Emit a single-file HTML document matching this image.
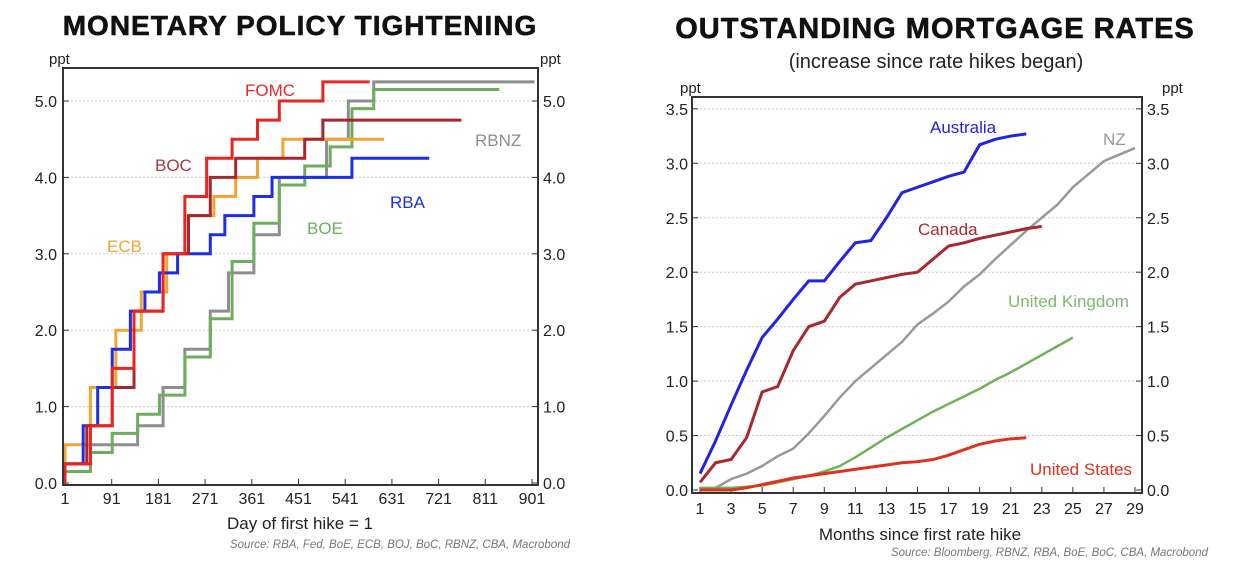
<!DOCTYPE html>
<html><head><meta charset="utf-8"><style>
html,body{margin:0;padding:0;background:#fff;}
svg{display:block;font-family:"Liberation Sans",Arial,sans-serif;}
</style></head><body>
<svg id="c" width="1250" height="572" viewBox="0 0 1250 572">
<text x="300" y="35" text-anchor="middle" font-size="28" font-weight="bold" letter-spacing="1" fill="#111" stroke="#111" stroke-width="0.6">MONETARY POLICY TIGHTENING</text>
<text x="935" y="38" text-anchor="middle" font-size="29" font-weight="bold" letter-spacing="1" fill="#111" stroke="#111" stroke-width="0.6">OUTSTANDING MORTGAGE RATES</text>
<text x="936" y="68" text-anchor="middle" font-size="20" fill="#222">(increase since rate hikes began)</text>
<text x="49" y="64" font-size="15" fill="#222">ppt</text>
<text x="540" y="64" font-size="15" fill="#222">ppt</text>
<text x="680" y="93" font-size="15" fill="#222">ppt</text>
<text x="1162" y="93" font-size="15" fill="#222">ppt</text>
<text x="300" y="529" text-anchor="middle" font-size="17" fill="#222">Day of first hike = 1</text>
<text x="570" y="548" text-anchor="end" font-size="11.5" font-style="italic" fill="#777">Source: RBA, Fed, BoE, ECB, BOJ, BoC, RBNZ, CBA, Macrobond</text>
<text x="920" y="540" text-anchor="middle" font-size="17" fill="#222">Months since first rate hike</text>
<text x="1208" y="556" text-anchor="end" font-size="11.5" font-style="italic" fill="#777">Source: Bloomberg, RBNZ, RBA, BoE, BoC, CBA, Macrobond</text>
<g id="L"></g><g id="R"></g>
</svg>
<script>
// Left chart data: [day, level] steps
const fomcDays=[1,50,92,134,190,232,274,323,372,414,498,588];
const fomcLvl=[0.25,0.75,1.5,2.25,3.0,3.75,4.25,4.5,4.75,5.0,5.25,5.25];
const bocDays=[1,43,92,134,190,239,281,330,463,498,765];
const bocLvl=[0.25,0.75,1.25,2.25,3.0,3.5,4.0,4.25,4.5,4.75,4.75];
const ecbDays=[1,50,99,148,197,239,288,330,372,421,616];
const ecbLvl=[0.5,1.25,2.0,2.5,3.0,3.5,3.75,4.0,4.25,4.5,4.5];
const rbaDays=[1,36,64,92,127,155,183,218,281,309,365,400,554,703];
const rbaLvl=[0.25,0.75,1.25,1.75,2.25,2.5,2.75,3.0,3.25,3.5,3.75,4.0,4.25,4.25];
const boeDays=[1,50,92,141,183,232,281,323,365,414,463,512,554,596,838];
const boeLvl=[0.15,0.4,0.65,0.9,1.15,1.65,2.15,2.9,3.4,3.9,4.15,4.4,4.9,5.15,5.15];
const rbnzDays=[1,50,141,190,232,281,316,365,414,505,547,596,906];
const rbnzLvl=[0.25,0.5,0.75,1.25,1.75,2.25,2.75,3.25,4.0,4.5,5.0,5.25,5.25];
const leftXTicks=[1,91,181,271,361,451,541,631,721,811,901];
const leftYTicks=[0,1,2,3,4,5];
// Right chart data: monthly values starting at month 1
const australia=[0.15,0.45,0.78,1.1,1.4,1.57,1.75,1.92,1.92,2.1,2.27,2.29,2.5,2.73,2.78,2.83,2.88,2.92,3.17,3.22,3.25,3.27];
const canada=[0.07,0.25,0.28,0.48,0.9,0.95,1.28,1.5,1.55,1.77,1.89,1.92,1.95,1.98,2.0,2.12,2.24,2.27,2.31,2.34,2.37,2.4,2.42];
const nz=[0.0,0.02,0.1,0.15,0.22,0.31,0.38,0.52,0.68,0.85,1.0,1.12,1.24,1.36,1.52,1.62,1.73,1.87,1.98,2.12,2.25,2.38,2.5,2.62,2.78,2.9,3.02,3.08,3.14];
const uk=[0.02,0.02,0.02,0.03,0.04,0.07,0.1,0.13,0.17,0.22,0.3,0.39,0.48,0.56,0.64,0.72,0.79,0.86,0.93,1.01,1.08,1.16,1.24,1.32,1.4];
const us=[0.0,0.0,0.0,0.02,0.05,0.08,0.11,0.13,0.15,0.17,0.19,0.21,0.23,0.25,0.26,0.28,0.32,0.37,0.42,0.45,0.47,0.48];
const rightXTicks=[1,3,5,7,9,11,13,15,17,19,21,23,25,27,29];
const rightYTicks=[0,0.5,1,1.5,2,2.5,3,3.5];

const NS='http://www.w3.org/2000/svg';
function mk(p,tag,a){const e=document.createElementNS(NS,tag);for(const k in a)e.setAttribute(k,a[k]);p.appendChild(e);return e;}
const LX=d=>65+(d-1)*(532-65)/900, LY=v=>483-v*76.4;
const L=document.getElementById('L');
leftYTicks.forEach(v=>{
 if(v>0){const g=mk(L,'line',{x1:63,x2:538,y1:LY(v),y2:LY(v),stroke:'#ccc','stroke-dasharray':'2,2'});
 
 }
 const t=mk(L,'text',{x:57,y:LY(v)+6,'text-anchor':'end','font-size':16,fill:'#222'});t.textContent=v.toFixed(1);
 
 
 const t2=mk(L,'text',{x:543,y:LY(v)+6,'font-size':16,fill:'#222'});t2.textContent=v.toFixed(1);
 
 
 mk(L,'line',{x1:63,x2:69,y1:LY(v),y2:LY(v),stroke:'#333'});mk(L,'line',{x1:532,x2:538,y1:LY(v),y2:LY(v),stroke:'#333'});
});
leftXTicks.forEach(d=>{
 mk(L,'line',{x1:LX(d),x2:LX(d),y1:485,y2:479,stroke:'#333'});
 const t=mk(L,'text',{x:LX(d),y:504,'text-anchor':'middle','font-size':16,fill:'#222'});t.textContent=d;
 
 
});
function step(days,lvl,color,name){
 let d='M'+LX(days[0])+','+LY(0)+' L'+LX(days[0])+','+LY(lvl[0]);
 for(let i=1;i<days.length;i++){d+=' L'+LX(days[i])+','+LY(lvl[i-1])+' L'+LX(days[i])+','+LY(lvl[i]);}
 const p=mk(L,'path',{d:d,fill:'none',stroke:color,'stroke-width':3});
 
 
}
step(rbnzDays,rbnzLvl,'#8e8e8e','rbnz-line');
step(boeDays,boeLvl,'#6cae5e','boe-line');
step(ecbDays,ecbLvl,'#f2a531','ecb-line');
step(rbaDays,rbaLvl,'#1c2ee8','rba-line');
step(bocDays,bocLvl,'#a8262e','boc-line');
step(fomcDays,fomcLvl,'#ea2420','fomc-line');
const lf=mk(L,'rect',{x:63,y:68,width:475,height:417,fill:'none',stroke:'#333','stroke-width':2});


[['FOMC',245,96,'#e32a25'],['BOC',155,171,'#a83a40'],['ECB',107,252,'#f2a531'],['RBA',390,208,'#1c2ee8'],['BOE',307,234,'#6cae5e'],['RBNZ',475,146,'#8e8e8e']].forEach(a=>{
 const t=mk(L,'text',{x:a[1],y:a[2],'font-size':17,fill:a[3]});t.textContent=a[0];
 
 
});
const RX=m=>700+(m-1)*(1135-700)/28, RY=v=>490-v*108.9;
const R=document.getElementById('R');
rightYTicks.forEach(v=>{
 if(v>0){const g=mk(R,'line',{x1:692,x2:1142,y1:RY(v),y2:RY(v),stroke:'#ccc','stroke-dasharray':'2,2'});
 
 }
 const t=mk(R,'text',{x:688,y:RY(v)+6,'text-anchor':'end','font-size':16,fill:'#222'});t.textContent=v.toFixed(1);
 
 
 const t2=mk(R,'text',{x:1147,y:RY(v)+6,'font-size':16,fill:'#222'});t2.textContent=v.toFixed(1);
 
 
 mk(R,'line',{x1:692,x2:698,y1:RY(v),y2:RY(v),stroke:'#333'});mk(R,'line',{x1:1136,x2:1142,y1:RY(v),y2:RY(v),stroke:'#333'});
});
rightXTicks.forEach(m=>{
 mk(R,'line',{x1:RX(m),x2:RX(m),y1:493,y2:487,stroke:'#333'});
 const t=mk(R,'text',{x:RX(m),y:514,'text-anchor':'middle','font-size':16,fill:'#222'});t.textContent=m;
 
 
});
function line(vals,color,name,w){
 const pts=vals.map((v,i)=>RX(i+1)+','+RY(v)).join(' ');
 const p=mk(R,'polyline',{points:pts,fill:'none',stroke:color,'stroke-width':w});
 
 
}
line(nz,'#999999','nz-line',2.5);
line(uk,'#6cb35a','uk-line',2.5);
line(us,'#e0301e','us-line',3);
line(canada,'#a8282f','canada-line',3);
line(australia,'#2222e6','australia-line',3);
const rf=mk(R,'rect',{x:692,y:97,width:450,height:396,fill:'none',stroke:'#333','stroke-width':2});


[['Australia',930,133,'#2222e6'],['Canada',918,235,'#a8282f'],['NZ',1103,145,'#999'],['United Kingdom',1008,307,'#7dbb6e'],['United States',1030,475,'#e0301e']].forEach(a=>{
 const t=mk(R,'text',{x:a[1],y:a[2],'font-size':17,fill:a[3]});t.textContent=a[0];
 
 
});
</script>
</body></html>
